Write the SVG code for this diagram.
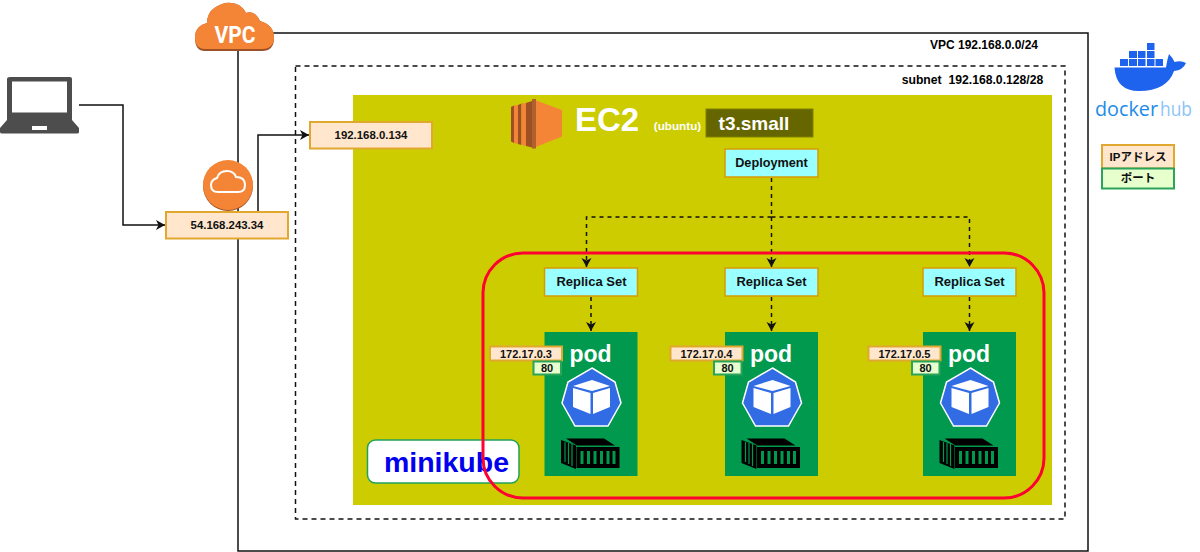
<svg xmlns="http://www.w3.org/2000/svg" width="1200" height="552" viewBox="0 0 1200 552">
<style>
text{font-family:"Liberation Sans",Arial,"Noto Sans CJK JP",sans-serif;font-weight:bold;text-anchor:middle}
.ip{fill:#ffe6cc;stroke:#e0a82e;stroke-width:2}
.port{fill:#e6ffcc;stroke:#2ba35a;stroke-width:2}
.k8s{fill:#99ffff;stroke:#d79b00;stroke-width:1.500}
.t{font-size:11.400px;fill:#111}
.s{font-size:11px;fill:#111}
.l{font-size:11.500px;fill:#111}
.t2{font-size:13px;fill:#111}
.pod{font-size:23px;fill:#fff}
.conn{fill:none;stroke:#111;stroke-width:1.500}
.dash{fill:none;stroke:#111;stroke-width:1.500;stroke-dasharray:4 4}
.w{fill:#fff}
.hub{font-size:20px;font-weight:normal;text-anchor:start;font-family:"Open Sans","Liberation Sans",sans-serif}
</style>
<defs>
<marker id="arr" markerWidth="11" markerHeight="11" refX="9" refY="5.500" orient="auto" markerUnits="userSpaceOnUse"><path d="M0 0.500L9 5.500L0 10.500L2.500 5.500Z" fill="#111"/></marker>
<g id="podicons">
<path d="M592 368L615 382L621 403L608 426H575L562 403L568 382Z" fill="#326ce5" stroke="#fff" stroke-width="1.500"/>
<path d="M592 380L610 386L592 391L573 386Z" fill="#fff"/>
<path d="M573 388L590.500 393V414L573 407Z" fill="#fff"/>
<path d="M610 388L593 393V414L610 407Z" fill="#fff"/>
<path d="M566 438.500H604L615 445.500H577Z" fill="#000"/>
<path d="M561 440L576 445.500V469L561 463Z" fill="#000"/>
<path d="M565 442V462M568.500 443V464M572 444V466" stroke="#00994d" stroke-width="1.200" fill="none"/>
<rect x="576.500" y="447" width="43" height="21" fill="#000"/>
<path d="M582 451V464M588.500 451V464M595 451V464M601.500 451V464M608 451V464M614 451V464" stroke="#00994d" stroke-width="3" fill="none"/>
</g>
</defs>

<g id="vpc-frame"><rect x="238" y="33" width="850" height="518" fill="#fff" stroke="#111" stroke-width="1.500"/><text x="984" y="49" style="font-size:12px" fill="#000">VPC 192.168.0.0/24</text></g>
<g id="subnet"><rect x="295.500" y="66" width="769.500" height="453" fill="#fff" stroke="#111" stroke-width="1.500" stroke-dasharray="5 4"/><text x="972.500" y="84" style="font-size:12.200px" fill="#000">subnet&#160; 192.168.0.128/28</text></g>
<g id="ec2-area"><rect x="353" y="95" width="699" height="410" fill="#cccc00"/></g>

<g id="ec2-icon">
<path d="M511 107L514 105.500V143L511 141.500Z" fill="#9d5025"/>
<path d="M514 105.500L518 105V144L514 143Z" fill="#f58536"/>
<path d="M518 105L521.500 103.500V145L518 144Z" fill="#9d5025"/>
<path d="M521.500 103.500L526 103V146L521.500 145Z" fill="#f58536"/>
<path d="M526 103L532 101V147.500L526 146Z" fill="#9d5025"/>
<path d="M532 99V148.500L562 136.500V110Z" fill="#f58536"/>
<path d="M532 99V148.500L536 148.500V99Z" fill="#b0602a"/>
</g>
<g id="ec2-label"><text x="607" y="131" class="w" style="font-size:33px">EC2</text><text x="677.500" y="130" class="w" style="font-size:11.700px">(ubuntu)</text></g>
<g id="instance-type"><rect x="706" y="109" width="107" height="28" fill="#666600" stroke="#808000" stroke-width="1"/><text x="754" y="130" class="w" style="font-size:19px">t3.small</text></g>

<g id="connectors">
<path class="conn" d="M79 105H123V225H165" marker-end="url(#arr)"/>
<path class="conn" d="M258 212V135H309" marker-end="url(#arr)"/>
<path class="dash" d="M771.500 178V217"/>
<path class="dash" d="M771.500 217V267" marker-end="url(#arr)"/>
<path class="dash" d="M771.500 217H586.500V267" marker-end="url(#arr)"/>
<path class="dash" d="M771.500 217H969.500V267" marker-end="url(#arr)"/>
<path class="dash" d="M591 297V331" marker-end="url(#arr)"/>
<path class="dash" d="M771.500 297V331" marker-end="url(#arr)"/>
<path class="dash" d="M969.500 297V331" marker-end="url(#arr)"/>
</g>

<g id="laptop">
<path d="M10 77H70Q72 77 72 79V120L79 128V132Q79 133.500 77 133.500H2Q0 133.500 0 132V128L7 120V79Q7 77 10 77Z" fill="#4d4d4d"/>
<rect x="12" y="81.500" width="55" height="31" fill="#fff"/>
<rect x="32" y="126" width="15" height="4" fill="#fff"/>
</g>
<g id="vpc-cloud">
<path d="M205 51Q195 51 195 38Q195 26 207 23Q207 8 225 3Q240 1 246 13Q255 10 260 21Q274 25 274 38Q274 51 262 51Z" fill="#9d5025"/>
<path d="M205 49Q195 49 195 37Q195 26 207 23Q207 8 225 3Q240 1 246 13Q255 10 260 21Q274 25 274 37Q274 49 262 49Z" fill="#f58536"/>
<text x="235" y="43" class="w" style="font-size:23px;font-family:'Liberation Sans Narrow','Roboto','Liberation Sans',sans-serif" textLength="41" lengthAdjust="spacingAndGlyphs">VPC</text>
</g>
<g id="gateway">
<circle cx="228" cy="186" r="25" fill="#9d5025"/>
<circle cx="228" cy="185" r="25" fill="#f58536"/>
<path d="M218 192Q211 192 211 185Q211 180 217 178Q219 171 227 171Q234 171 236 177Q245 177 245 185Q245 192 238 192Z" fill="none" stroke="#fff" stroke-width="2"/>
</g>
<g id="public-ip"><rect class="ip" x="166" y="212" width="122" height="26.500"/><text class="t" x="227" y="229">54.168.243.34</text></g>
<g id="private-ip"><rect class="ip" x="310" y="122" width="122" height="26.500"/><text class="t" x="371" y="139">192.168.0.134</text></g>

<g id="deployment"><rect class="k8s" x="725" y="149" width="93" height="28"/><text x="771.500" y="167" style="font-size:12.700px;fill:#111">Deployment</text></g>

<g id="pod-1"><rect x="544.500" y="332" width="93" height="144" fill="#00994d"/><text x="590.500" y="362" class="pod">pod</text><use href="#podicons"/></g>
<g id="pod-2"><rect x="725" y="332" width="93" height="144" fill="#00994d"/><text x="771" y="362" class="pod">pod</text><use href="#podicons" x="180.500"/></g>
<g id="pod-3"><rect x="923" y="332" width="93" height="144" fill="#00994d"/><text x="969" y="362" class="pod">pod</text><use href="#podicons" x="378.500"/></g>

<g id="minikube"><rect x="367.500" y="440" width="151.500" height="43" rx="8" fill="#fff" stroke="#1fa35c" stroke-width="1.500"/><text x="446.500" y="472" style="font-size:28.500px" fill="#0000ee">minikube</text></g>

<g id="minikube-boundary"><rect x="483" y="253" width="561" height="245" rx="40" fill="none" stroke="#ff0033" stroke-width="3"/></g>

<g id="replica-1"><rect class="k8s" x="544.500" y="268" width="93" height="28"/><text class="t2" x="591.500" y="286">Replica Set</text></g>
<g id="replica-2"><rect class="k8s" x="725" y="268" width="93" height="28"/><text class="t2" x="771.500" y="286">Replica Set</text></g>
<g id="replica-3"><rect class="k8s" x="923" y="268" width="93" height="28"/><text class="t2" x="969.500" y="286">Replica Set</text></g>

<g id="ip-pod-1"><rect class="ip" x="490" y="346.500" width="72" height="14"/><text class="s" x="526" y="357.500">172.17.0.3</text><rect class="port" x="533.500" y="361.500" width="27.500" height="13"/><text class="s" x="547" y="372">80</text></g>
<g id="ip-pod-2"><rect class="ip" x="670.500" y="346.500" width="72" height="14"/><text class="s" x="706.500" y="357.500">172.17.0.4</text><rect class="port" x="714" y="361.500" width="27.500" height="13"/><text class="s" x="727.500" y="372">80</text></g>
<g id="ip-pod-3"><rect class="ip" x="868.500" y="346.500" width="72" height="14"/><text class="s" x="904.500" y="357.500">172.17.0.5</text><rect class="port" x="912" y="361.500" width="27.500" height="13"/><text class="s" x="925.500" y="372">80</text></g>

<g id="docker-hub">
<g fill="#1d63ed">
<rect x="1120" y="59" width="8" height="7"/><rect x="1129" y="59" width="8" height="7"/><rect x="1138" y="59" width="7.500" height="7"/><rect x="1147" y="59" width="7.500" height="7"/><rect x="1155.500" y="59" width="7.500" height="7"/>
<rect x="1129" y="51" width="8" height="7"/><rect x="1138" y="51" width="7.500" height="7"/><rect x="1147" y="51" width="7.500" height="7"/>
<rect x="1147" y="43" width="7.500" height="7"/>
<path d="M1114.500 67.500H1166Q1167 60 1169 54Q1173 58 1174.500 62Q1181 60 1186 63Q1183 70 1174 71Q1167 91 1139 91Q1116 91 1114.500 67.500Z"/>
</g>
<text x="1095" y="116" class="hub" fill="#1d8be8" textLength="63" lengthAdjust="spacingAndGlyphs">docker</text>
<text x="1160" y="116" class="hub" fill="#8cc4f5" textLength="32" lengthAdjust="spacingAndGlyphs">hub</text>
</g>
<g id="legend"><rect class="ip" x="1102" y="145" width="72" height="23.500"/><text class="l" x="1138" y="161">IPアドレス</text><rect class="port" x="1102" y="168.500" width="72" height="20"/><text class="l" x="1138" y="182">ポート</text></g>
</svg>
